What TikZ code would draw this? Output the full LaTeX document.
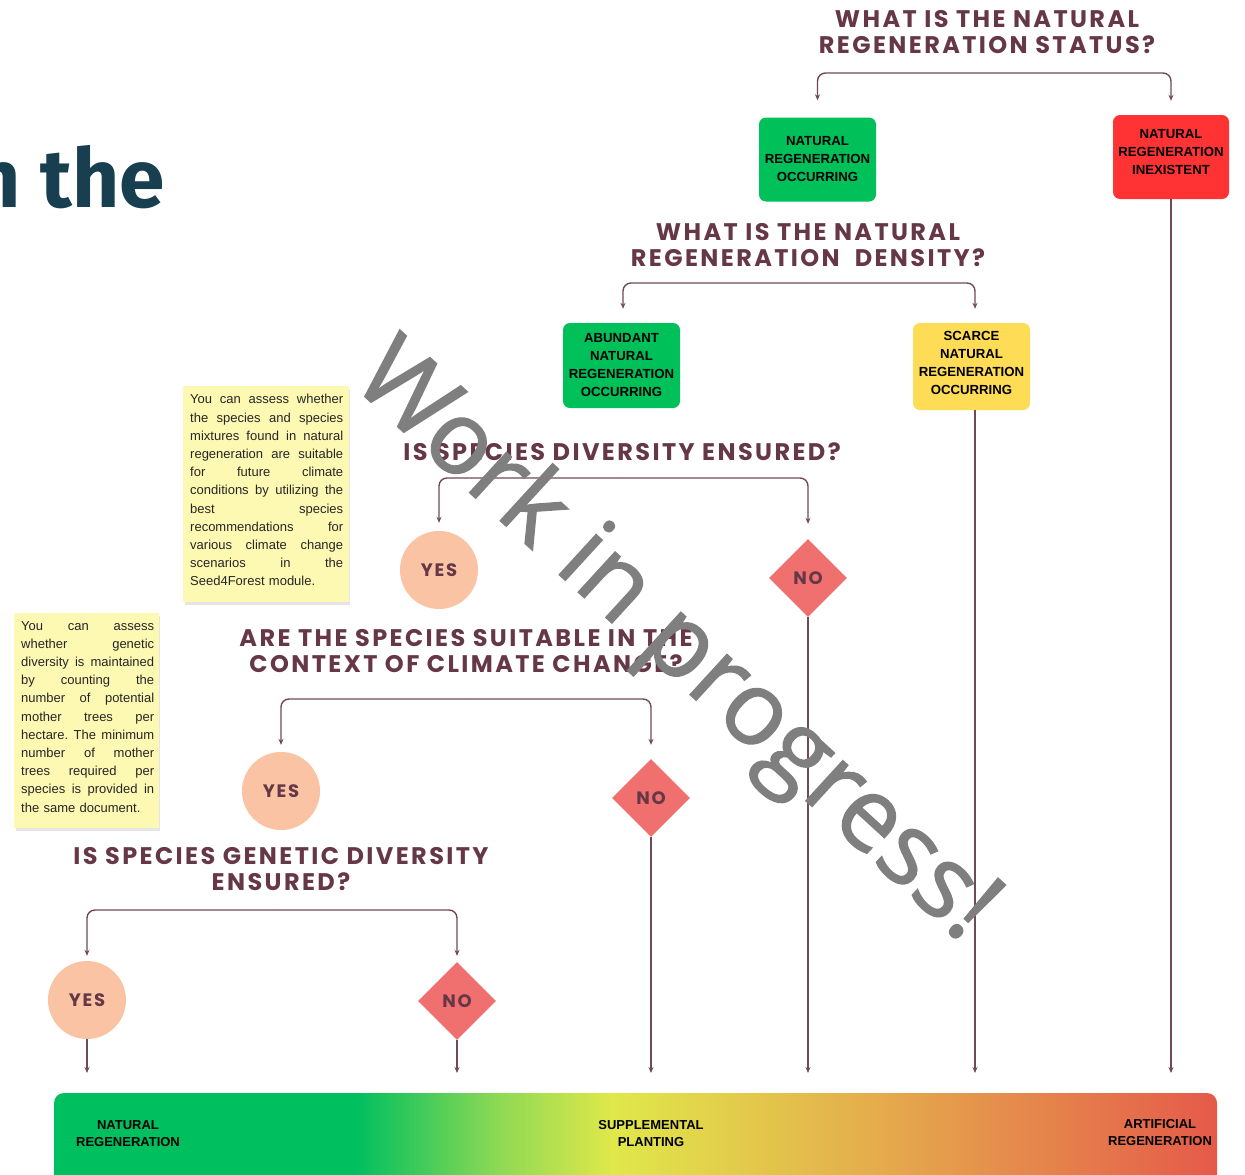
\documentclass[tikz,border=0pt]{standalone}
\usepackage{fontspec}
\setmainfont{Liberation Sans}
\newfontfamily\titlefont{Poppins}[LetterSpace=10]
\newfontfamily\bigfont{Fira Sans}
\newfontfamily\wmfont{Open Sans}[FakeBold=1.3]
\usetikzlibrary{shapes.geometric,arrows.meta}
\setlength{\parindent}{0pt}

\definecolor{maroon}{HTML}{653747}
\definecolor{conncol}{HTML}{6F4A58}
\definecolor{gbox}{HTML}{00C05A}
\definecolor{rbox}{HTML}{FF3333}
\definecolor{ybox}{HTML}{FEDC56}
\definecolor{peach}{HTML}{FAC3A3}
\definecolor{nored}{HTML}{F07070}
\definecolor{notecol}{HTML}{FDF8B2}
\definecolor{tealtext}{HTML}{173F4F}
\definecolor{wmgray}{HTML}{7F7F7F}

\pgfdeclarehorizontalshading{barshade}{100bp}{rgb(0bp)=(0,0.749,0.373); rgb(25bp)=(0,0.749,0.373); rgb(38bp)=(0,0.749,0.373); rgb(44bp)=(0.55,0.85,0.33); rgb(49bp)=(0.878,0.91,0.29); rgb(61bp)=(0.90,0.66,0.30); rgb(75bp)=(0.90,0.353,0.29); rgb(100bp)=(0.90,0.353,0.29)}

\tikzset{
  conn/.style={draw=conncol, line width=1.4pt, rounded corners=8pt, -{Stealth[length=6pt,width=5pt]}},
  boxnode/.style={rounded corners=7pt, minimum width=117pt, minimum height=84pt, align=center, inner sep=1pt, text=black, font=\fontsize{13.2}{18}\selectfont\bfseries},
  yesnode/.style={circle, fill=peach, minimum size=78pt, inner sep=0pt, text=maroon, font=\titlefont\bfseries\fontsize{18}{20}\selectfont},
  nonode/.style={diamond, aspect=1, fill=nored, minimum width=78pt, minimum height=78pt, inner sep=0pt, text=maroon, font=\titlefont\bfseries\fontsize{18}{20}\selectfont},
  titlenode/.style={text=maroon, align=center, inner sep=0pt, font=\titlefont\bfseries\fontsize{24}{26.5}\selectfont},
  notenode/.style={anchor=north west, inner xsep=7pt, inner ysep=0pt, align=left, font=\fontsize{13}{18.2}\selectfont, text=black!85},
  bartext/.style={align=center, text=black, font=\fontsize{13}{17}\selectfont\bfseries},
}

\begin{document}
\begin{tikzpicture}[x=1pt,y=-1pt]
\useasboundingbox (0,0) rectangle (1245,1175);
\clip (0,0) rectangle (1245,1175);
\fill[white] (0,0) rectangle (1245,1175);

% partial heading at left
\node[anchor=base east, inner sep=0pt, text=tealtext, font=\bigfont\bfseries\fontsize{82}{84}\selectfont] (head) at (165,207) {n the};

% titles
\node[titlenode] (t1) at (987,32) {WHAT IS THE NATURAL\\REGENERATION STATUS?};
\node[titlenode] (t2) at (808,245) {WHAT IS THE NATURAL\\REGENERATION\ \ DENSITY?};
\node[titlenode] (t3) at (622,452) {IS SPECIES DIVERSITY ENSURED?};
\node[titlenode] (t4) at (466,651) {ARE THE SPECIES SUITABLE IN THE\\CONTEXT OF CLIMATE CHANGE?};
\node[titlenode] (t5) at (281,869) {IS SPECIES GENETIC DIVERSITY\\ENSURED?};

% boxes
\node[boxnode, fill=gbox] (g1) at (817.5,159.5) {NATURAL\\REGENERATION\\OCCURRING};
\node[boxnode, fill=rbox, minimum width=116pt, text depth=10pt] (r1) at (1171,157) {NATURAL\\REGENERATION\\INEXISTENT};
\node[boxnode, fill=gbox, minimum height=85pt] (g2) at (621.5,365.5) {ABUNDANT\\NATURAL\\REGENERATION\\OCCURRING};
\node[boxnode, fill=ybox, minimum height=87pt, text depth=8pt] (y2) at (971.5,366.5) {SCARCE\\NATURAL\\REGENERATION\\OCCURRING};

% yes / no
\node[yesnode] (yes1) at (439,570) {YES};
\node[nonode] (no1) at (808,578) {NO};
\node[yesnode] (yes2) at (281,791) {YES};
\node[nonode] (no2) at (651,798) {NO};
\node[yesnode] (yes3) at (87,1000) {YES};
\node[nonode] (no3) at (457,1001) {NO};

% notes
\fill[black!10] (185,389) rectangle (350,605);
\fill[notecol] (183,386) rectangle (349,602);
\node[notenode, text width=153pt, minimum height=216pt] (n1) at (183,382) {%
You\hfill can\hfill assess\hfill whether\par
the\hfill species\hfill and\hfill species\par
mixtures\hfill found\hfill in\hfill natural\par
regeneration\hfill are\hfill suitable\par
for\hfill future\hfill climate\par
conditions\hfill by\hfill utilizing\hfill the\par
best\hfill species\par
recommendations\hfill for\par
various\hfill climate\hfill change\par
scenarios\hfill in\hfill the\par
Seed4Forest module.};
\fill[black!10] (16,616) rectangle (160,831);
\fill[notecol] (14,613) rectangle (159,828);
\node[notenode, text width=133pt, minimum height=215pt] (n2) at (14,609) {%
You\hfill can\hfill assess\par
whether\hfill genetic\par
diversity\hfill is\hfill maintained\par
by\hfill counting\hfill the\par
number\hfill of\hfill potential\par
mother\hfill trees\hfill per\par
hectare.\hfill The\hfill minimum\par
number\hfill of\hfill mother\par
trees\hfill required\hfill per\par
species\hfill is\hfill provided\hfill in\par
the same document.};

% bottom bar
\path[shading=barshade, rounded corners=10pt] (54,1093) rectangle (1217,1195);
\node[inner sep=0pt, minimum width=1163pt, minimum height=82pt, anchor=north west] (bar) at (54,1093) {};
\node[bartext] (lnat) at (128,1134) {NATURAL\\REGENERATION};
\node[bartext] (lsup) at (651,1134) {SUPPLEMENTAL\\PLANTING};
\node[bartext] (lart) at (1160,1133) {ARTIFICIAL\\REGENERATION};

% brackets
\coordinate (k1) at (993,73);
\draw[conn] (k1) -| ([yshift=17pt]g1.north);
\draw[conn] (k1) -| ([yshift=14pt]r1.north);
\coordinate (k2) at (800,283);
\draw[conn] (k2) -| ([xshift=1.5pt,yshift=14pt]g2.north);
\draw[conn] (k2) -| ([xshift=3.5pt,yshift=14pt]y2.north);
\coordinate (k3) at (620,478);
\draw[conn] (k3) -| ([yshift=8pt]yes1.north);
\draw[conn] (k3) -| ([yshift=15pt]no1.north);
\coordinate (k4) at (466,699);
\draw[conn] (k4) -| ([yshift=7pt]yes2.north);
\draw[conn] (k4) -| ([yshift=14pt]no2.north);
\coordinate (k5) at (272,910);
\draw[conn] (k5) -| ([yshift=5pt]yes3.north);
\draw[conn] (k5) -| ([yshift=6pt]no3.north);

% verticals to bar
\draw[conn] (r1.south) -- ([yshift=20pt]r1.south |- bar.north);
\draw[conn] ([xshift=3.5pt]y2.south) -- ([xshift=3.5pt,yshift=20pt]y2.south |- bar.north);
\draw[conn] (no1.south) -- ([yshift=20pt]no1.south |- bar.north);
\draw[conn] (no2.south) -- ([yshift=20pt]no2.south |- bar.north);
\draw[conn] (no3.south) -- ([yshift=20pt]no3.south |- bar.north);
\draw[conn] (yes3.south) -- ([yshift=20pt]yes3.south |- bar.north);

% watermark
\node[rotate=-42.5, inner sep=0pt, text=wmgray, font=\wmfont\fontsize{102}{102}\selectfont] (wm) at (674,644) {Work in progress!};
\end{tikzpicture}
\end{document}
